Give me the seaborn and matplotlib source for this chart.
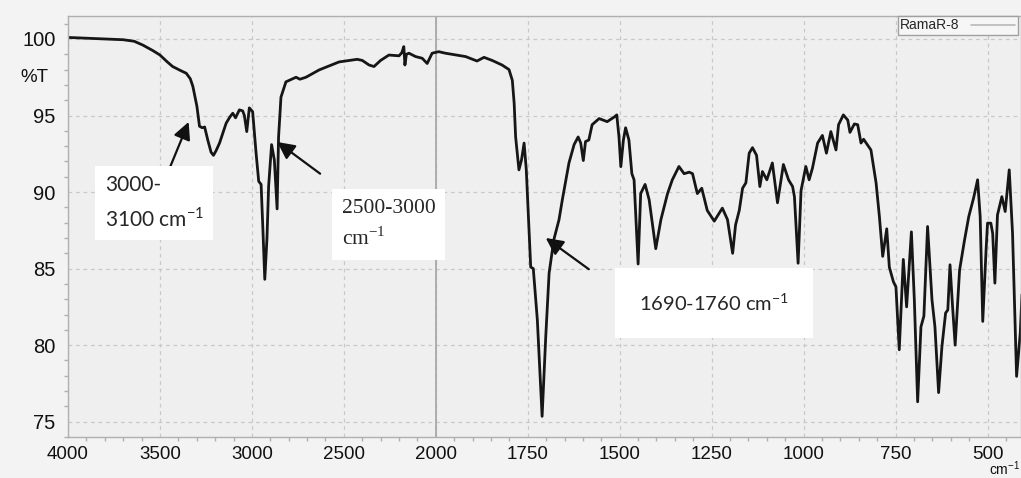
import numpy as np
import pandas as pd
import matplotlib
matplotlib.use('Agg')
import matplotlib.pyplot as plt
import seaborn as sns
from matplotlib.ticker import FixedLocator, NullFormatter

# Espectro FTIR (número de onda em cm-1, transmitância em %T)
wavenumber = [
    4000, 3900, 3800, 3700, 3640, 3593, 3540, 3501, 3460, 3431, 3390, 3357, 3335, 3321,
    3299, 3285, 3270, 3257, 3240, 3222, 3209, 3195, 3176, 3140, 3120, 3104, 3089, 3068,
    3050, 3041, 3028, 3014, 2996, 2977, 2963, 2950, 2940, 2930, 2918, 2909, 2893, 2878,
    2863, 2855, 2842, 2815, 2760, 2739, 2706, 2634, 2526, 2428, 2400, 2363, 2336, 2300,
    2255, 2200, 2185, 2174, 2168, 2160, 2146, 2110, 2074, 2047, 2020, 1992, 1974, 1919,
    1888, 1869, 1847, 1820, 1801, 1792, 1787, 1783, 1774, 1767, 1760, 1754, 1747, 1742,
    1735, 1724, 1711, 1701, 1692, 1679, 1665, 1656, 1638, 1624, 1613, 1606, 1599, 1593,
    1584, 1575, 1556, 1534, 1515, 1508, 1502, 1497, 1490, 1484, 1475, 1467, 1461, 1450,
    1443, 1431, 1420, 1402, 1388, 1370, 1357, 1339, 1325, 1311, 1302, 1289, 1277, 1262,
    1243, 1221, 1207, 1193, 1185, 1175, 1166, 1157, 1148, 1139, 1128, 1119, 1112, 1100,
    1085, 1071, 1055, 1041, 1030, 1025, 1015, 1007, 994, 985, 976, 962, 949, 938,
    926, 912, 905, 892, 880, 874, 862, 853, 844, 837, 817, 803, 794, 785,
    774, 767, 756, 749, 740, 729, 720, 707, 699, 690, 681, 673, 663, 651,
    643, 633, 624, 614, 608, 602, 595, 588, 576, 563, 551, 538, 527, 520,
    513, 504, 500, 491, 486, 480, 473, 461, 452, 441, 432, 421, 411, 405,
]
transmittance = [
    100.1, 100.05, 100.0, 99.95, 99.85, 99.6, 99.25, 98.96, 98.5, 98.2, 97.95, 97.76, 97.4, 96.9,
    95.6, 94.3, 94.2, 94.25, 93.4, 92.6, 92.4, 92.7, 93.2, 94.5, 94.9, 95.15, 94.85, 95.37,
    95.3, 95.0, 93.95, 95.5, 95.25, 92.5, 90.7, 90.5, 87.5, 84.3, 87.0, 90.4, 93.1, 92.1,
    88.9, 93.6, 96.2, 97.2, 97.5, 97.37, 97.5, 97.98, 98.5, 98.67, 98.6, 98.3, 98.2, 98.6,
    98.95, 98.9, 99.1, 99.5, 98.3, 99.0, 99.07, 98.85, 98.74, 98.4, 99.07, 99.17, 99.07, 98.85,
    98.56, 98.8, 98.6, 98.3, 98.0, 97.3, 95.8, 93.6, 91.45, 92.1, 93.2, 91.45, 87.75, 85.1,
    85.0, 81.66, 75.35, 80.6, 84.7, 86.9, 88.2, 89.5, 91.9, 93.1, 93.6, 93.2, 92.06, 93.3,
    93.4, 94.4, 94.8, 94.6, 94.9, 95.04, 93.6, 91.66, 93.4, 94.2, 93.4, 91.2, 90.8, 85.3,
    89.9, 90.5, 89.5, 86.3, 88.2, 89.9, 90.8, 91.67, 91.2, 91.3, 91.2, 89.9, 90.25, 88.8,
    88.1, 88.95, 88.2, 86.0, 87.86, 88.8, 90.25, 90.6, 92.54, 92.9, 92.4, 90.36, 91.34, 90.8,
    91.9, 89.3, 91.8, 90.8, 90.36, 89.7, 85.35, 90.1, 91.67, 90.8, 91.56, 93.2, 93.7, 92.54,
    93.95, 92.75, 94.4, 95.04, 94.7, 93.9, 94.45, 94.4, 93.2, 93.45, 92.75, 90.6, 88.4, 85.8,
    87.6, 85.1, 84.15, 83.8, 79.7, 85.6, 82.5, 87.4, 82.96, 76.3, 81.2, 81.9, 87.75, 82.96,
    81.2, 76.9, 79.9, 82.1, 82.3, 85.25, 82.5, 80.0, 84.9, 86.8, 88.4, 89.6, 90.8, 88.4,
    81.55, 86.2, 87.97, 87.97, 87.3, 84.05, 88.5, 89.7, 88.73, 91.45, 87.3, 77.96, 80.8, 84.0,
]

x_major = [4000, 3500, 3000, 2500, 2000, 1750, 1500, 1250, 1000, 750, 500]
y_major = [75, 80, 85, 90, 95, 100]
x_minor = list(range(3900, 2000, -100)) + list(range(1950, 400, -50))
y_minor = list(range(74, 102))

series_name = 'RamaR-8'

df = pd.DataFrame({'wavenumber': wavenumber, 'T': transmittance})


# escala com quebra em 2000 cm-1 (metade da resolução acima de 2000)
def fwd(x):
    x = np.asarray(x, dtype=float)
    return np.where(x > 2000, 2000 + (x - 2000) / 2.0, x)


def inv(u):
    u = np.asarray(u, dtype=float)
    return np.where(u > 2000, 2000 + (u - 2000) * 2.0, u)


sns.set_theme(style='white')
plt.rcParams['font.family'] = ['Liberation Sans', 'DejaVu Sans']

fig = plt.figure(figsize=(10.21, 4.78), dpi=100, facecolor='#f3f3f3')
ax = fig.add_axes([68 / 1021, 1 - 437 / 478, 953 / 1021, (437 - 15.7) / 478])
ax.set_facecolor('#efefef')

sns.lineplot(data=df, x='wavenumber', y='T', sort=False, estimator=None,
             color='#161616', lw=2.0, label=series_name, ax=ax)

ax.set_xscale('function', functions=(fwd, inv))
ax.set_xlim(4000, 409)
ax.set_ylim(74.0, 101.52)

ax.xaxis.set_major_locator(FixedLocator(x_major))
ax.xaxis.set_minor_locator(FixedLocator(x_minor))
ax.xaxis.set_minor_formatter(NullFormatter())
ax.set_xticklabels([str(v) for v in x_major])
ax.yaxis.set_major_locator(FixedLocator(y_major))
ax.yaxis.set_minor_locator(FixedLocator(y_minor))
ax.set_yticklabels([str(v) for v in y_major])

ax.tick_params(axis='both', which='major', direction='out', length=5, width=1,
               color='#a0a0a0', labelcolor='#111111', pad=3)
ax.tick_params(axis='both', which='minor', direction='out', length=3, width=1,
               color='#b0b0b0', left=True, bottom=True)
ax.tick_params(axis='x', which='major', labelsize=13.5, pad=1.5)
ax.tick_params(axis='y', which='major', labelsize=14.5, pad=4)

ax.grid(True, which='major', ls=(0, (3, 3)), color='#c8c8c8', lw=0.9)
ax.axvline(2000, color='#a8a8a8', lw=1.3, zorder=1)
for side in ['top', 'bottom', 'left', 'right']:
    ax.spines[side].set_color('#b0b0b0')
    ax.spines[side].set_linewidth(1.0)
ax.set_xlabel('')
ax.set_ylabel('')

# legenda no canto superior direito
leg = ax.legend(loc='upper right', bbox_to_anchor=(0.997, 1.0), borderaxespad=0,
                markerfirst=False, fontsize=10, handlelength=3.2, borderpad=0.2,
                fancybox=False, frameon=True, edgecolor='#a0a0a0', framealpha=1)
leg.get_frame().set_facecolor('#f6f6f6')
leg.get_lines()[0].set_color('#b8b8b8')
leg.get_lines()[0].set_linewidth(1.2)

# rótulos dos eixos
fig.text(20 / 1021, 1 - 78 / 478, '%T', ha='left', va='center', fontsize=13.5, color='#111111')
fig.text(1020 / 1021, 0.0, r'cm$^{\mathregular{-1}}$', ha='right', va='bottom',
         fontsize=10, color='#111111')

# anotações das bandas
arrow = dict(arrowstyle='-|>', color='#111111', lw=1.6, mutation_scale=26,
             shrinkA=0, shrinkB=0)
box = dict(boxstyle='square,pad=0.45', facecolor='white', edgecolor='none')

ax.annotate('', xy=(3344, 94.58), xytext=(3458, 91.25), arrowprops=arrow)
ax.text(3800, 89.3, '3000-\n3100 cm$^{\\mathregular{-1}}$', ha='left', va='center',
        fontsize=15, family=['Lato', 'DejaVu Sans'], linespacing=1.55, bbox=box, zorder=5)

ax.annotate('', xy=(2862, 93.27), xytext=(2629, 91.2), arrowprops=arrow)
ax.text(2510, 87.9, '2500-3000\ncm$^{\\mathregular{-1}}$', ha='left', va='center',
        fontsize=15.5, family=['Liberation Serif', 'DejaVu Serif'], linespacing=1.55,
        bbox=box, zorder=5)

ax.annotate('', xy=(1701, 87.0), xytext=(1584, 84.96), arrowprops=arrow)
ax.text(1447, 82.76, '1690-1760 cm$^{\\mathregular{-1}}$', ha='left', va='center',
        fontsize=14.5, family=['Lato', 'DejaVu Sans'],
        bbox=dict(boxstyle='square,pad=1.2', facecolor='white', edgecolor='none'), zorder=5)

plt.savefig('out.png', dpi=100, facecolor=fig.get_facecolor())
plt.close()
